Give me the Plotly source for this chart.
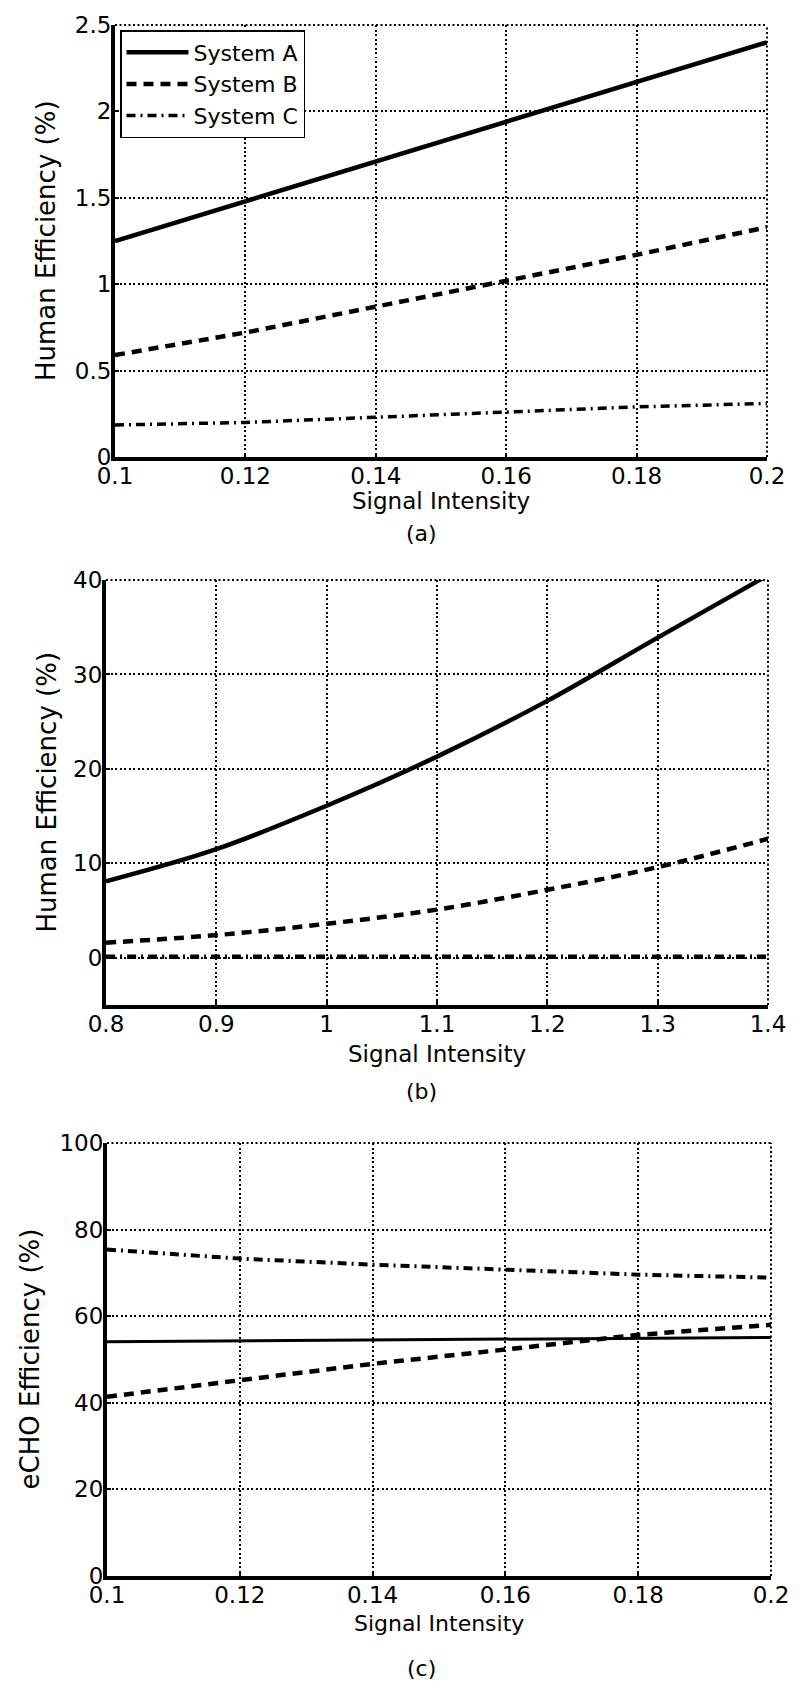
import plotly.graph_objects as go

# ---------------- data ----------------
series_names = ["System A", "System B", "System C"]

# panel (a)
a_x = [0.10, 0.12, 0.14, 0.16, 0.18, 0.20]
a_sysA = [1.25, 1.48, 1.71, 1.94, 2.17, 2.40]
a_sysB = [0.59, 0.72, 0.87, 1.02, 1.17, 1.33]
a_sysC = [0.185, 0.20, 0.23, 0.26, 0.29, 0.31]
a_xticks = [0.1, 0.12, 0.14, 0.16, 0.18, 0.2]
a_xticklabels = ["0.1", "0.12", "0.14", "0.16", "0.18", "0.2"]
a_yticks = [0, 0.5, 1, 1.5, 2, 2.5]
a_yticklabels = ["0", "0.5", "1", "1.5", "2", "2.5"]

# panel (b)
b_x = [0.8, 0.9, 1.0, 1.1, 1.2, 1.3, 1.4]
b_sysA = [8.1, 11.5, 16.1, 21.3, 27.2, 33.9, 40.5]
b_sysB = [1.6, 2.4, 3.6, 5.1, 7.2, 9.6, 12.6]
b_sysC = [0.1, 0.1, 0.1, 0.1, 0.1, 0.1, 0.1]
b_xticks = [0.8, 0.9, 1.0, 1.1, 1.2, 1.3, 1.4]
b_xticklabels = ["0.8", "0.9", "1", "1.1", "1.2", "1.3", "1.4"]
b_yticks = [0, 10, 20, 30, 40]
b_yticklabels = ["0", "10", "20", "30", "40"]

# panel (c)
c_x = [0.10, 0.12, 0.14, 0.16, 0.18, 0.20]
c_sysA = [54.1, 54.3, 54.5, 54.7, 54.9, 55.1]
c_sysB = [41.4, 45.3, 49.0, 52.3, 55.7, 58.0]
c_sysC = [75.4, 73.3, 71.9, 70.7, 69.6, 68.9]
c_xticks = [0.1, 0.12, 0.14, 0.16, 0.18, 0.2]
c_xticklabels = ["0.1", "0.12", "0.14", "0.16", "0.18", "0.2"]
c_yticks = [0, 20, 40, 60, 80, 100]
c_yticklabels = ["0", "20", "40", "60", "80", "100"]

x_title = "Signal Intensity"
y_titles = ["Human Efficiency (%)", "Human Efficiency (%)", "eCHO Efficiency (%)"]
panel_labels = ["(a)", "(b)", "(c)"]

# ---------------- layout helpers ----------------
# the page body adds an 8px margin, so the figure is drawn 8px smaller
# and every page-pixel position is shifted by that offset
OFF = 8
PAGE_W, PAGE_H = 800, 1694
W, H = PAGE_W - OFF, PAGE_H - OFF
FONT = "DejaVu Sans"

def px_x(p):
    return (p - OFF) / W

def px_y(p):
    return 1 - (p - OFF) / H

# page-pixel boxes [left, right, top, bottom]
boxes = [(115, 767, 25, 457), (106, 768, 580, 1005), (107, 771, 1143, 1576)]

dashes = ["solid", "10px,7px", "9px,5px,2px,5px"]
widths_a = [4.5, 4.5, 3.5]
widths_b = [4.5, 4.5, 4.5]
widths_c = [3, 4.5, 4]

fig = go.Figure()

panels = [
    (a_x, [a_sysA, a_sysB, a_sysC], "x", "y", widths_a, True),
    (b_x, [b_sysA, b_sysB, b_sysC], "x2", "y2", widths_b, False),
    (c_x, [c_sysA, c_sysB, c_sysC], "x3", "y3", widths_c, False),
]
for xs, ys_list, xa, ya, wl, show in panels:
    for name, ys, d, w in zip(series_names, ys_list, dashes, wl):
        fig.add_trace(go.Scatter(
            x=xs, y=ys, mode="lines", name=name, showlegend=show,
            xaxis=xa, yaxis=ya,
            line=dict(color="black", width=w, dash=d,
                      shape="spline" if xa == "x2" else "linear"),
        ))

GRID_DASH = "2px,2.5px"
GRID_W = 2

axis_common = dict(
    showline=True, linecolor="black", linewidth=4,
    showgrid=True, gridcolor="black", gridwidth=GRID_W, griddash=GRID_DASH,
    zeroline=False, ticks="inside", ticklen=4, tickwidth=2, tickcolor="black",
    tickfont=dict(family=FONT, size=23, color="black"),
    tickmode="array", mirror=False, automargin=False,
)

ranges = [((0.1, 0.2), (0, 2.5)), ((0.8, 1.4), (-5, 40)), ((0.1, 0.2), (0, 100))]
ticks = [
    (a_xticks, a_xticklabels, a_yticks, a_yticklabels),
    (b_xticks, b_xticklabels, b_yticks, b_yticklabels),
    (c_xticks, c_xticklabels, c_yticks, c_yticklabels),
]

layout = dict(
    width=W, height=H, margin=dict(l=0, r=0, t=0, b=0, pad=0, autoexpand=False),
    paper_bgcolor="white", plot_bgcolor="white",
    font=dict(family=FONT, color="black"),
    showlegend=True,
    legend=dict(
        x=px_x(120), y=px_y(30), xanchor="left", yanchor="top",
        bgcolor="white", bordercolor="black", borderwidth=1.5,
        font=dict(family=FONT, size=22, color="black"),
        tracegroupgap=0, itemwidth=62,
    ),
)

annotations = []
shapes = []
for i, ((l, r, t, b), (xr, yr), (xt, xtl, yt, ytl)) in enumerate(zip(boxes, ranges, ticks)):
    sfx = "" if i == 0 else str(i + 1)
    xa = dict(axis_common, domain=[px_x(l), px_x(r)], range=list(xr),
              tickvals=xt, ticktext=xtl, anchor="y" + sfx, ticklabelstandoff=-5)
    ya = dict(axis_common, domain=[px_y(b), px_y(t)], range=list(yr),
              tickvals=yt, ticktext=ytl, anchor="x" + sfx, ticklabelstandoff=-5)
    layout["xaxis" + sfx] = xa
    layout["yaxis" + sfx] = ya
    # dotted frame on top and right edges (MATLAB grid style)
    shapes.append(dict(type="line", xref="paper", yref="paper",
                       x0=px_x(l), x1=px_x(r), y0=px_y(t), y1=px_y(t),
                       line=dict(color="black", width=GRID_W, dash=GRID_DASH)))
    shapes.append(dict(type="line", xref="paper", yref="paper",
                       x0=px_x(r), x1=px_x(r), y0=px_y(b), y1=px_y(t),
                       line=dict(color="black", width=GRID_W, dash=GRID_DASH)))

xt_pos = [501, 1054, 1623]
xt_size = [23, 23, 22]
lab_pos = [533, 1091, 1668]
yt_x = [46, 46, 29]
for i, (l, r, t, b) in enumerate(boxes):
    cx = (l + r) / 2
    annotations.append(dict(text=x_title, xref="paper", yref="paper",
                            x=px_x(cx), y=px_y(xt_pos[i]), xanchor="center", yanchor="middle",
                            showarrow=False, font=dict(family=FONT, size=xt_size[i], color="black")))
    annotations.append(dict(text=panel_labels[i], xref="paper", yref="paper",
                            x=px_x(421), y=px_y(lab_pos[i]), xanchor="center", yanchor="middle",
                            showarrow=False, font=dict(family=FONT, size=22, color="black")))
    annotations.append(dict(text=y_titles[i], xref="paper", yref="paper",
                            x=px_x(yt_x[i]), y=px_y((t + b) / 2), xanchor="center", yanchor="middle",
                            textangle=-90, showarrow=False,
                            font=dict(family=FONT, size=26, color="black")))

layout["annotations"] = annotations
layout["shapes"] = shapes
fig.update_layout(**layout)

fig.write_html("out.html")
